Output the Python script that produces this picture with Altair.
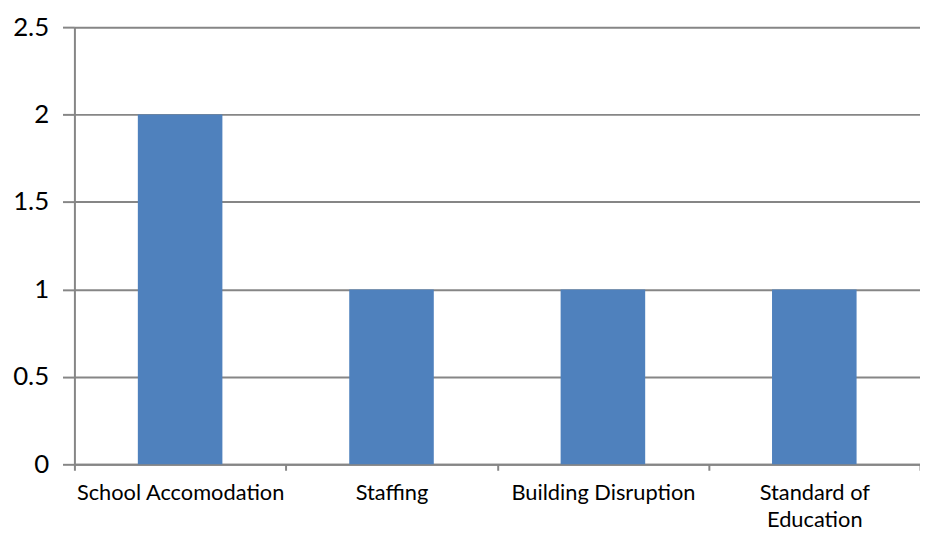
import altair as alt
import pandas as pd

categories = ["School Accomodation", "Staffing", "Building Disruption", "Standard of Education"]
values = [2, 1, 1, 1]

df = pd.DataFrame({"category": categories, "value": values})

grey = "#868686"

chart = alt.Chart(df).mark_bar(color="#4F81BD", width=alt.RelativeBandSize(0.4)).encode(
    x=alt.X("category:N", sort=categories, title=None,
            scale=alt.Scale(paddingInner=0, paddingOuter=0),
            axis=alt.Axis(labelAngle=0, tickBand="extent", tickSize=6, tickWidth=2, tickColor=grey,
                          domainColor=grey, domainWidth=2, labelPadding=12, labelLimit=0,
                          labelFont="Lato", labelFontSize=22, labelColor="#000000",
                          labelLineHeight=28,
                          labelExpr="datum.label == 'Standard of Education' ? ['Standard of', 'Education'] : datum.label")),
    y=alt.Y("value:Q", title=None,
            scale=alt.Scale(domain=[0, 2.5], nice=False),
            axis=alt.Axis(values=[0, 0.5, 1, 1.5, 2, 2.5], format=".1~f", tickSize=12, tickWidth=2,
                          tickColor=grey, domainColor=grey, domainWidth=2, gridColor=grey, gridWidth=2,
                          grid=True, labelPadding=14, labelFont="Lato", labelFontSize=26,
                          labelColor="#000000")),
).properties(
    width=853, height=441,
    autosize=alt.AutoSizeParams(type="none"),
    padding={"left": 67, "top": 17, "right": 0, "bottom": 70},
).configure_view(stroke=None).configure_axis(gridOpacity=1)

chart.save("out.html", embed_options={"renderer": "svg", "actions": False})
